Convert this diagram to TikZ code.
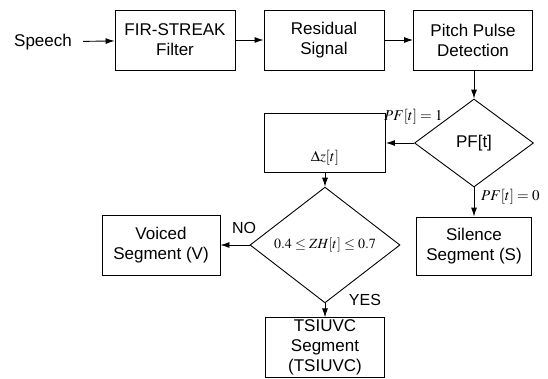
\documentclass[tikz,border=0pt]{standalone}
\usepackage{mathptmx}
\usepackage[no-math]{fontspec}
\setmainfont{Liberation Sans}
\usetikzlibrary{arrows.meta, shapes.geometric}
\tikzset{>={Latex[length=9pt,width=6pt]}}
\tikzset{
  txt/.style={font=\fontsize{17}{20}\selectfont},
  block/.style={draw, txt, line width=0.9pt, minimum width=119, minimum height=60, align=center, inner sep=2pt},
  decision/.style={draw, diamond, line width=0.9pt, inner sep=0pt},
  cond/.style={font=\fontsize{14}{16}\selectfont},
  flow/.style={->, line width=0.9pt}
}
\begin{document}
\begin{tikzpicture}[x=1pt, y=-1pt]
    \useasboundingbox (0,0) rectangle (548,378);
    \node (speech) [txt, inner xsep=11pt] at (43,42) {Speech};
    \node (fir) [block, minimum width=120] at (175,40) {FIR-STREAK\\Filter};
    \node (res) [block, minimum width=120] at (324,40) {Residual\\Signal};
    \node (pitch) [block] at (473,40) {Pitch Pulse\\Detection};
    \node (pf) [decision, txt, minimum width=119, minimum height=88] at (474,143) {PF[t]};
    \node (dz) [block, minimum width=121, minimum height=59, inner ysep=0pt, text height=48, text depth=11, font=\fontsize{15}{18}\selectfont] at (325,142.5) {$\Delta z[t]$};
    \node (sil) [block, minimum width=115, minimum height=58] at (474,246) {Silence\\Segment (S)};
    \node (zh) [decision, cond, minimum width=150, minimum height=86] at (325,245) {$0.4\le ZH[t]\le 0.7$};
    \node (voiced) [block, minimum width=118] at (161,245) {Voiced\\Segment (V)};
    \node (tsi) [block, minimum width=119, minimum height=59] at (325,347.5) {TSIUVC\\Segment\\(TSIUVC)};
    % connectors
    \draw [flow] (speech) -- (fir);
    \draw [flow] (fir) -- (res);
    \draw [flow] (res) -- (pitch);
    \draw [flow] (pitch.south -| pf.north) -- (pf.north);
    \draw [flow] (pf.west) -- (pf.west -| dz.east);
    \draw [flow] (pf.south) -- (sil.north -| pf.south);
    \draw [flow] (dz.south) -- (zh.north);
    \draw [flow] (zh.west) -- (voiced.east);
    \draw [flow] (zh.south) -- (tsi.north);
    % labels
    \node (pf1) [cond, font=\fontsize{15}{17}\selectfont, anchor=west, inner sep=0pt] at (384,117) {$PF[t]=1$};
    \node (pf0) [cond, font=\fontsize{15}{17}\selectfont, anchor=west, inner sep=0pt] at (481,197) {$PF[t]=0$};
    \node (no) [txt, font=\fontsize{16}{18}\selectfont] at (244,228) {NO};
    \node (yes) [txt, font=\fontsize{16}{18}\selectfont] at (365,300) {YES};
\end{tikzpicture}
\end{document}
